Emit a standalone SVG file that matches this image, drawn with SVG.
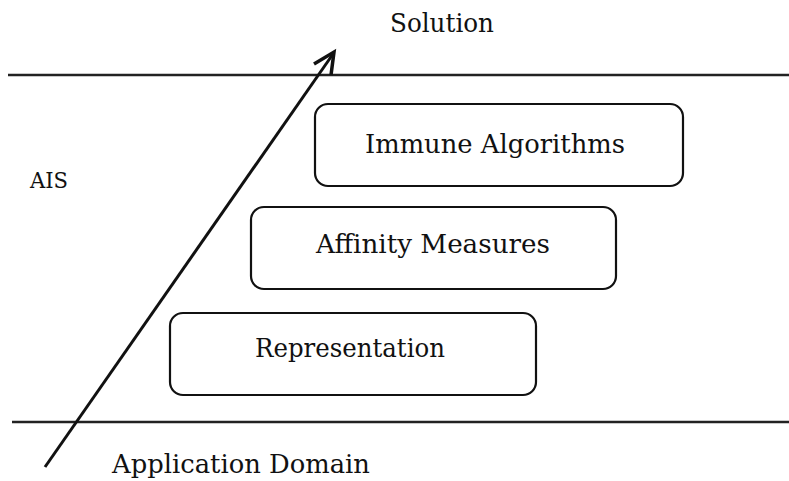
<svg xmlns="http://www.w3.org/2000/svg" width="789" height="481" viewBox="0 0 789 481">
<style>
.t{font-family:'DejaVu Serif','Liberation Serif',serif;font-size:26px;fill:#111;}
.t.s{font-size:23px;}
.box{fill:#fff;stroke:#111;stroke-width:2.2;}
.ln{stroke:#222;stroke-width:2.5;fill:none;}
</style>
<rect width="789" height="481" fill="#fff"/>
<g id="layers">
<line class="ln" x1="8" y1="75" x2="789" y2="75"/>
<line class="ln" x1="12" y1="422" x2="789" y2="422"/>
</g>
<text class="t" x="390" y="32" textLength="104" lengthAdjust="spacingAndGlyphs">Solution</text>
<text class="t s" x="30" y="188" textLength="38" lengthAdjust="spacingAndGlyphs">AIS</text>
<text class="t" x="112" y="473" textLength="258" lengthAdjust="spacingAndGlyphs">Application Domain</text>
<g id="node-immune">
<rect class="box" x="315" y="104" width="368" height="82" rx="13"/>
<text class="t" x="365" y="153" textLength="260" lengthAdjust="spacingAndGlyphs">Immune Algorithms</text>
</g>
<g id="node-affinity">
<rect class="box" x="251" y="207" width="365" height="82" rx="13"/>
<text class="t" x="316" y="253" textLength="234" lengthAdjust="spacingAndGlyphs">Affinity Measures</text>
</g>
<g id="node-representation">
<rect class="box" x="170" y="313" width="366" height="82" rx="13"/>
<text class="t" x="255" y="357" textLength="190" lengthAdjust="spacingAndGlyphs">Representation</text>
</g>
<g id="connectors">
<line x1="45" y1="467" x2="333" y2="54" stroke="#111" stroke-width="3"/>
<polyline points="314,64 334,52 331,75" fill="none" stroke="#111" stroke-width="3.5" stroke-linejoin="miter"/>
</g>
</svg>
